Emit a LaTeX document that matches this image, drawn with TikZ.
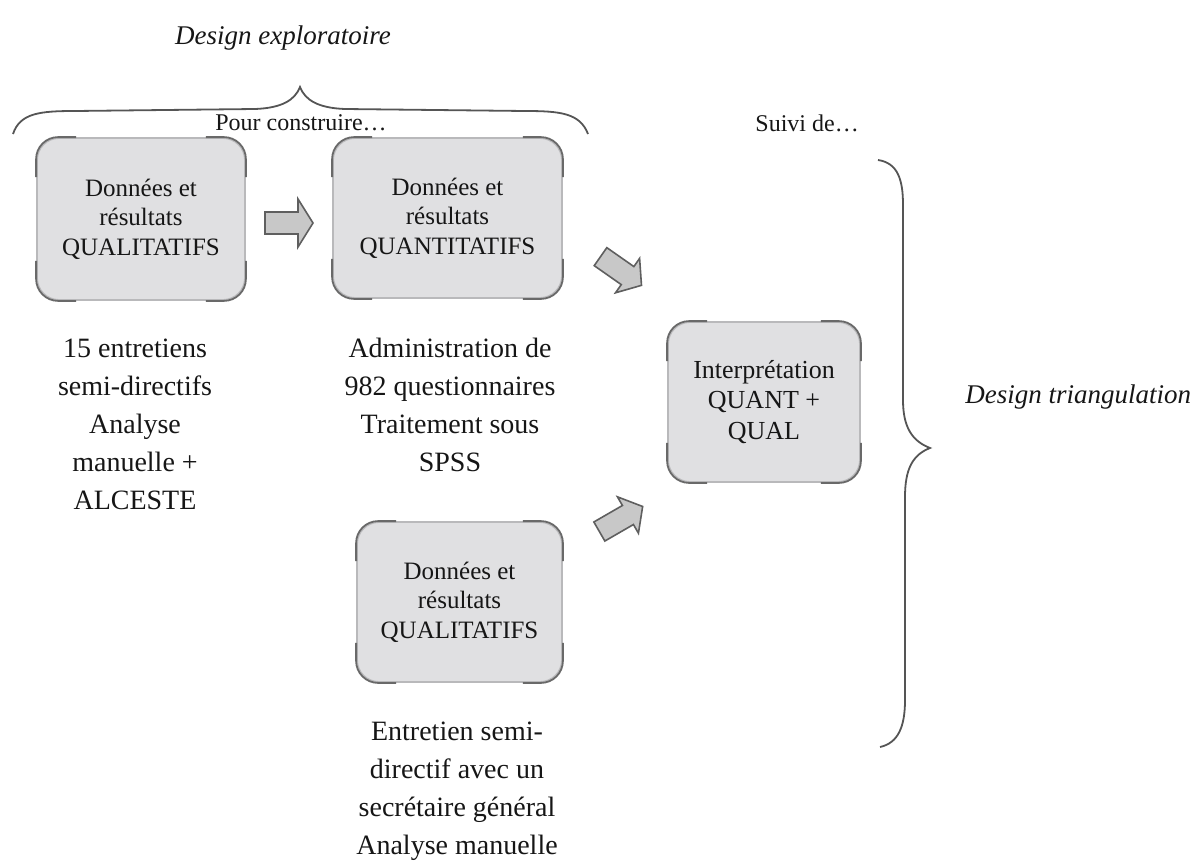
\documentclass[tikz,border=0pt]{standalone}
\usepackage{fontspec}
\setmainfont{Liberation Serif}
\definecolor{boxfill}{RGB}{224,224,226}
\definecolor{boxline}{RGB}{185,185,187}
\definecolor{crnline}{RGB}{105,105,105}
\definecolor{arrfill}{RGB}{200,200,200}
\definecolor{arrline}{RGB}{95,95,95}
\definecolor{brcol}{RGB}{85,85,85}
\definecolor{txt}{RGB}{22,22,22}
\newcommand\boxcorners[1]{%
  \draw[crn] ([yshift=-20pt]#1.north west) -- (#1.north west) -- ([xshift=20pt]#1.north west);
  \draw[crn] ([xshift=-20pt]#1.north east) -- (#1.north east) -- ([yshift=-20pt]#1.north east);
  \draw[crn] ([yshift=20pt]#1.south east) -- (#1.south east) -- ([xshift=-20pt]#1.south east);
  \draw[crn] ([xshift=20pt]#1.south west) -- (#1.south west) -- ([yshift=20pt]#1.south west);}
\begin{document}
\begin{tikzpicture}[x=0.5pt,y=-0.5pt,
  box/.style={draw=boxline, fill=boxfill, rounded corners=11pt, line width=0.9pt,
    align=center, text=txt, inner sep=0pt, font=\fontsize{12.5}{14.75}\selectfont},
  crn/.style={draw=crnline, rounded corners=11pt, line width=0.9pt},
  lbl/.style={align=center, text=txt, inner sep=0pt, font=\fontsize{14}{19}\selectfont},
  head/.style={text=txt, inner sep=0pt},
  blk/.style={draw=arrline, fill=arrfill, line width=0.8pt, line join=miter},
  brc/.style={draw=brcol, line width=0.9pt}]
\useasboundingbox (0,0) rectangle (1203,862);

% headings
\node[head, font=\fontsize{13.5}{16}\selectfont\itshape] (dexp) at (283,38) {Design exploratoire};
\node[head, font=\fontsize{12}{14}\selectfont] (pour) at (301,123) {Pour construire\ldots};
\node[head, anchor=west, font=\fontsize{12}{14}\selectfont] (suivi) at (755,123) {Suivi de\ldots};
\node[head, anchor=west, font=\fontsize{13.5}{16}\selectfont\itshape] (dtri) at (965,397) {Design triangulation};

% braces
\path[brc] (13,134) .. controls (20,113) and (40,111) .. (75,111) -- (255,109)
  .. controls (282,108) and (295,100) .. (300,87)
  .. controls (305,100) and (318,108) .. (345,109) -- (525,111)
  .. controls (560,111) and (580,113) .. (588,134);
\path[brc] (878,160) .. controls (898,163) and (903,180) .. (903,205) -- (903,400)
  .. controls (903,427) and (912,441) .. (930,448)
  .. controls (912,455) and (905,470) .. (905,497) -- (905,700)
  .. controls (905,727) and (898,743) .. (880,747);

% boxes
\node[box, minimum width=104pt, minimum height=81pt] (b1) at (141,219) {Données et\\résultats\\QUALITATIFS};
\node[box, minimum width=114.5pt, minimum height=80pt] (b2) at (447.5,218) {Données et\\résultats\\QUANTITATIFS};
\node[box, minimum width=102.5pt, minimum height=80pt] (b3) at (459.5,602) {Données et\\résultats\\QUALITATIFS};
\node[box, minimum width=96pt, minimum height=80pt, font=\fontsize{13}{15.25}\selectfont] (bi) at (764,402) {Interprétation\\QUANT +\\QUAL};
\boxcorners{b1}
\boxcorners{b2}
\boxcorners{b3}
\boxcorners{bi}

% texts below boxes
\node[lbl] (t1) at (135,424) {15 entretiens\\semi-directifs\\Analyse\\manuelle +\\ALCESTE};
\node[lbl] (t2) at (450,405) {Administration de\\982 questionnaires\\Traitement sous\\SPSS};
\node[lbl] (t3) at (457,791) {Entretien semi-\\directif avec un\\secrétaire général\\Analyse manuelle};

% block arrows
\begin{scope}[shift={(289,223)}]
  \path[blk] (-24,-11) -- (9,-11) -- (9,-24) -- (24,0) -- (9,24) -- (9,11) -- (-24,11) -- cycle;
\end{scope}
\begin{scope}[shift={(621,271)}, rotate=-35]
  \path[blk] (-25,-11) -- (8,-11) -- (8,-21) -- (25,0) -- (8,21) -- (8,11) -- (-25,11) -- cycle;
\end{scope}
\begin{scope}[shift={(621,519)}, rotate=30]
  \path[blk] (-25,-11) -- (8,-11) -- (8,-21) -- (25,0) -- (8,21) -- (8,11) -- (-25,11) -- cycle;
\end{scope}
\end{tikzpicture}
\end{document}
